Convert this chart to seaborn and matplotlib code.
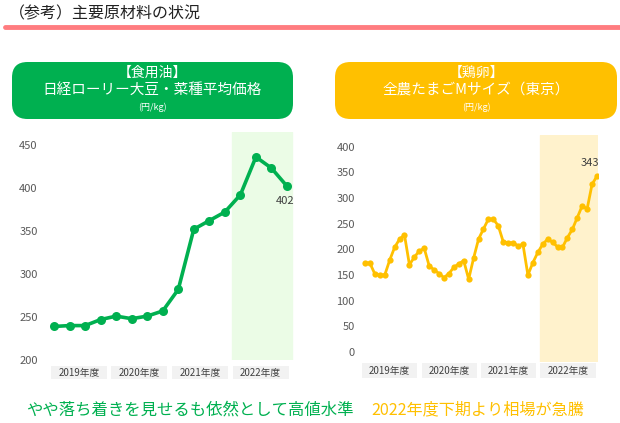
import numpy as np
import pandas as pd
import matplotlib
matplotlib.use("Agg")
import matplotlib.pyplot as plt
import seaborn as sns
from matplotlib.patches import FancyBboxPatch, Rectangle

# data
years = ["2019年度", "2020年度", "2021年度", "2022年度"]
oil_values = [239, 240, 240, 247, 251, 248, 251, 257,
              282, 352, 362, 372, 392, 436, 423, 402]
egg_values = [174, 173, 152, 150, 150, 179, 204, 220, 228, 170, 185, 197,
              202, 168, 160, 153, 145, 153, 165, 172, 178, 142, 183, 220,
              240, 259, 259, 246, 215, 213, 213, 207, 210, 150, 174, 194,
              210, 220, 214, 205, 204, 223, 239, 262, 285, 279, 327, 343]

GREEN = "#00B050"
YELLOW = "#FFC000"
GRAY = "#595959"

sns.set_theme(style="white")
plt.rcParams["font.family"] = ["Noto Sans CJK JP", "DejaVu Sans"]

W, H = 620, 423
fig = plt.figure(figsize=(W / 100, H / 100), dpi=100)


def px_axes(x0, y0, x1, y1):
    # pixel box (top-left origin) -> figure axes
    return fig.add_axes([x0 / W, 1 - y1 / H, (x1 - x0) / W, (y1 - y0) / H])


# title and rule
fig.text(9 / W, 1 - 14 / H, "（参考）主要原材料の状況", fontsize=11.5,
         color="#222222", va="center", ha="left")
fig.add_artist(plt.Line2D([5 / W, 1.0], [1 - 27 / H] * 2, color="#FF7C80",
                          linewidth=3.5, transform=fig.transFigure))

# header boxes
def header(x0, x1, color, l1, l2):
    box = FancyBboxPatch((x0 / W, 1 - 119 / H), (x1 - x0) / W, 57 / H,
                         boxstyle="round,pad=0,rounding_size=0.025",
                         transform=fig.transFigure, facecolor=color,
                         edgecolor="none", mutation_aspect=W / H)
    fig.add_artist(box)
    cx = (x0 + x1) / 2 / W
    fig.text(cx, 1 - 73 / H, l1, color="white", fontsize=10, ha="center", va="center")
    fig.text(cx, 1 - 90 / H, l2, color="white", fontsize=10.5, ha="center", va="center")
    fig.text(cx, 1 - 107 / H, "(円/kg)", color="white", fontsize=6.5,
             ha="center", va="center")


header(12, 293, GREEN, "【食用油】", "日経ローリー大豆・菜種平均価格")
header(335, 617, YELLOW, "【鶏卵】", "全農たまごMサイズ（東京）")


def style_axes(ax, ticks, pad):
    ax.set_yticks(ticks)
    ax.set_xticks([])
    ax.tick_params(axis="y", labelsize=8, colors=GRAY, length=0, pad=pad)
    for s in ax.spines.values():
        s.set_visible(False)
    ax.set_xlabel("")
    ax.set_ylabel("")
    ax.set_facecolor("none")


def year_boxes(ax, centers, width, y0, y1):
    tr = ax.get_xaxis_transform()
    for c, lab in zip(centers, years):
        ax.add_patch(Rectangle((c - width / 2, y0), width, y1 - y0, transform=tr,
                               facecolor="#F2F2F2", edgecolor="none", clip_on=False))
        ax.text(c, (y0 + y1) / 2, lab, transform=tr, ha="center", va="center",
                fontsize=7, color="#404040")


# left: cooking oil (quarterly)
oil = pd.DataFrame({"i": np.arange(len(oil_values)), "v": oil_values})
ax1 = px_axes(44.7, 132, 296.3, 360)
ax1.set_xlim(-0.6, 15.6)
ax1.set_ylim(200, 465)
ax1.axvspan(11.46, 15.3, color="#EBFCE6", zorder=0)
sns.lineplot(data=oil, x="i", y="v", ax=ax1, color=GREEN, linewidth=2.6,
             marker="o", markersize=6.5, markeredgewidth=0)
ax1.annotate(str(oil_values[-1]), (oil["i"].iloc[-1], oil_values[-1]),
             xytext=(-1, -13), textcoords="offset points", ha="center",
             fontsize=8, color="#404040")
style_axes(ax1, range(200, 451, 50), 5)
lh = 228
year_boxes(ax1, [1.6 + 3.9 * k for k in range(4)], 3.6, -6 / lh, -19 / lh)

# right: eggs (monthly)
egg = pd.DataFrame({"i": np.arange(len(egg_values)), "v": egg_values})
ax2 = px_axes(357.6, 135, 597.5, 362.25)
ax2.set_xlim(-1.5, 47.1)
ax2.set_ylim(-20, 423)
ax2.axvspan(35.5, 47.0, color="#FFF2CC", zorder=0)
sns.lineplot(data=egg, x="i", y="v", ax=ax2, color=YELLOW, linewidth=2,
             marker="o", markersize=4.5, markeredgewidth=0)
ax2.annotate(str(egg_values[-1]), (egg["i"].iloc[-1], egg_values[-1]),
             xytext=(-5, 7), textcoords="offset points", ha="center",
             fontsize=8, color="#404040")
style_axes(ax2, range(0, 401, 50), 2)
rh = 227.25
year_boxes(ax2, [5 + 12.05 * k for k in range(4)], 11.2, -1 / rh, -16 / rh)

# bottom comments
fig.text(190 / W, 1 - 410 / H, "やや落ち着きを見せるも依然として高値水準",
         color=GREEN, fontsize=11.8, ha="center", va="center")
fig.text(478 / W, 1 - 410 / H, "2022年度下期より相場が急騰",
         color=YELLOW, fontsize=11.6, ha="center", va="center")

fig.savefig("out.png", dpi=100)
